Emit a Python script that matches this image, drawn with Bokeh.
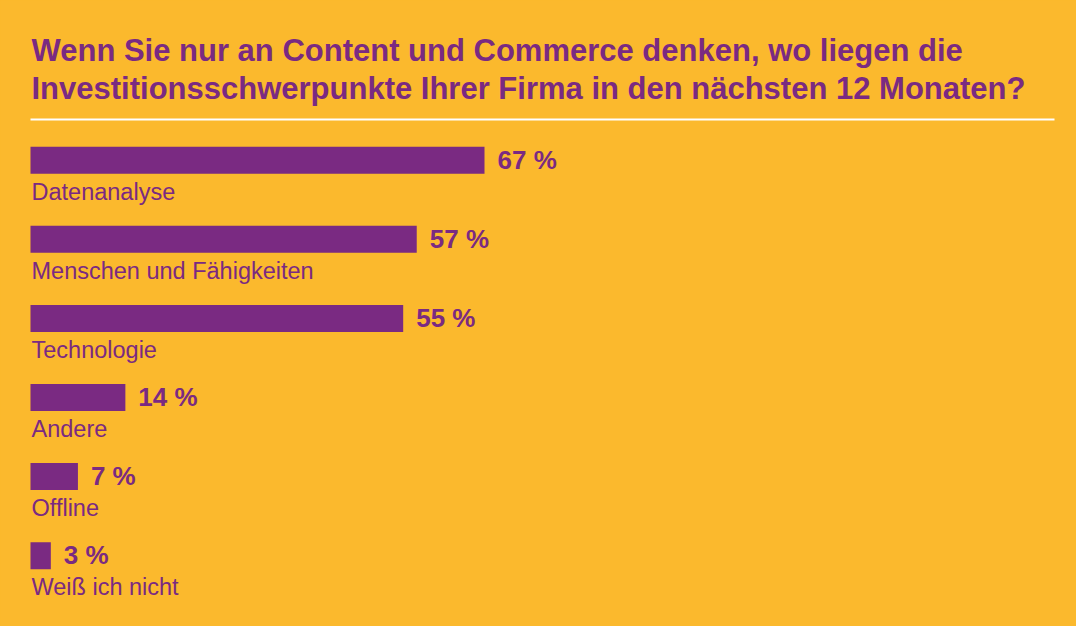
from bokeh.plotting import figure
from bokeh.models import Range1d, ColumnDataSource, Label
from bokeh.core.properties import value
from bokeh.embed import file_html
from bokeh.resources import INLINE

# ---- data ----
categories = ["Datenanalyse", "Menschen und Fähigkeiten", "Technologie", "Andere", "Offline", "Weiß ich nicht"]
values = [67, 57, 55, 14, 7, 3]
value_labels = [f"{v} %" for v in values]
title_lines = [
    "Wenn Sie nur an Content und Commerce denken, wo liegen die",
    "Investitionsschwerpunkte Ihrer Firma in den nächsten 12 Monaten?",
]

# ---- style / layout ----
BG = "#FBB92D"
PURPLE = "#7A2A82"
FONT = "Liberation Sans"
W, H = 1076, 626
MARGIN = 0
PX_PER_PCT = 454 / 67.0     # horizontal scale
BAR_X0_PAGE = 30            # where bars start on the page
ROW0_PAGE = 159.7           # centre of first bar on the page
ROW_STEP = 79.1             # pixels between rows
BAR_H_PX = 27

x_start = -(BAR_X0_PAGE - MARGIN) / PX_PER_PCT
x_end = (W - (BAR_X0_PAGE - MARGIN)) / PX_PER_PCT
row0 = ROW0_PAGE - MARGIN
y_top = -row0 / ROW_STEP
y_bot = (H - row0) / ROW_STEP


def page_x(px):
    return (px - BAR_X0_PAGE) / PX_PER_PCT


def page_y(py):
    return (py - MARGIN - row0) / ROW_STEP


p = figure(width=W, height=H, output_backend="svg", toolbar_location=None,
           x_range=Range1d(x_start, x_end), y_range=Range1d(y_bot, y_top),
           min_border=0, outline_line_color=None)
p.axis.visible = False
p.grid.visible = False
p.background_fill_color = BG
p.border_fill_color = BG

idx = list(range(len(categories)))
src = ColumnDataSource(dict(
    y=idx,
    val=values,
    vlab=value_labels,
    cat=categories,
    y_val=[i - 0.5 / ROW_STEP for i in idx],
    y_cat=[i + 31.5 / ROW_STEP for i in idx],
    zero=[0] * len(idx),
))

p.hbar(y="y", left="zero", right="val", height=BAR_H_PX / ROW_STEP, source=src,
       fill_color=PURPLE, line_color=None)

p.text(x="val", y="y_val", text="vlab", source=src, x_offset=13,
       text_font=value(FONT), text_font_size="26px", text_font_style="bold",
       text_color=PURPLE, text_baseline="alphabetic", text_align="left")

p.text(x="zero", y="y_cat", text="cat", source=src, x_offset=1,
       text_font=value(FONT), text_font_size="23.5px",
       text_color=PURPLE, text_baseline="alphabetic", text_align="left")

# title
for line, base in zip(title_lines, [49.5, 87.8]):
    p.add_layout(Label(x=page_x(31), y=page_y(base), text=line,
                       text_font=FONT, text_font_size="31px", text_font_style="bold",
                       text_color=PURPLE, text_baseline="alphabetic", text_align="left"))

# white rule under title
p.segment(x0=[page_x(30)], y0=[page_y(119)], x1=[page_x(1054)], y1=[page_y(119)],
          line_color="white", line_width=2)

html = file_html(p, INLINE)
html = html.replace("<head>", "<head><style>html,body{background:%s;margin:0;overflow:hidden;}</style>" % BG, 1)
open("out.html", "w").write(html)
